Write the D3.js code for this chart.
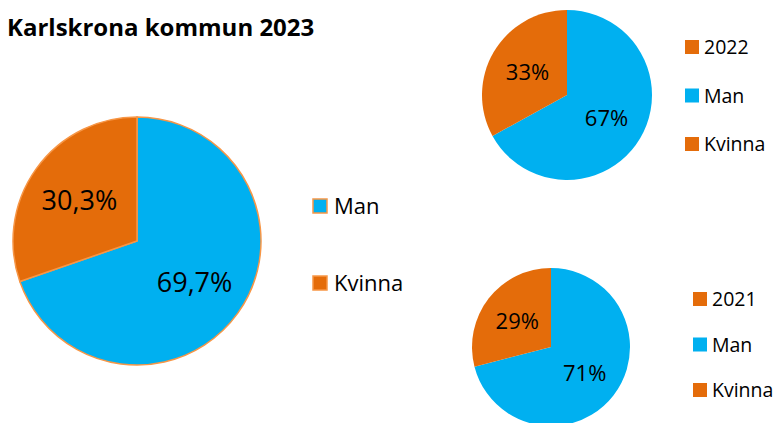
<!DOCTYPE html>
<html>
<head>
<meta charset="utf-8">
<script src="https://cdn.jsdelivr.net/npm/d3@7"></script>
<style>
  body { margin: 0; background: #fff; }
  svg { display: block; font-family: "Open Sans", sans-serif; }
</style>
</head>
<body>
<div id="chart"></div>
<script>
var categories = ['Man', 'Kvinna'];
var values2023 = [69.7, 30.3];
var values2022 = [67, 33];
var values2021 = [71, 29];
var labels2023 = ['69,7%', '30,3%'];
var labels2022 = ['67%', '33%'];
var labels2021 = ['71%', '29%'];

var colors = d3.scaleOrdinal().domain(categories).range(['#00B0F0', '#E46C0A']);

var svg = d3.select('#chart').append('svg')
	.attr('width', 778)
	.attr('height', 423);

svg.append('text')
	.attr('x', 7)
	.attr('y', 36)
	.attr('font-size', 24)
	.attr('font-weight', 'bold')
	.attr('fill', '#000')
	.text('Karlskrona kommun 2023');

function drawPie(opts) {
	var pie = d3.pie().sort(null).value(function(d) { return d.value; });
	var data = pie(categories.map(function(c, i) {
		return {name: c, value: opts.values[i], label: opts.labels[i]};
	}));
	var arc = d3.arc().innerRadius(0).outerRadius(opts.r);
	var labelArc = d3.arc().innerRadius(opts.r * opts.labelPos).outerRadius(opts.r * opts.labelPos);

	var g = svg.append('g').attr('transform', 'translate(' + opts.cx + ',' + opts.cy + ')');

	g.selectAll('path.slice')
		.data(data)
		.enter()
		.append('path')
		.attr('class', 'slice')
		.attr('d', arc)
		.attr('fill', function(d) { return colors(d.data.name); })
		.attr('stroke', opts.stroke || 'none')
		.attr('stroke-width', opts.stroke ? 1.5 : 0);

	g.selectAll('text.value')
		.data(data)
		.enter()
		.append('text')
		.attr('class', 'value')
		.attr('transform', function(d) { return 'translate(' + labelArc.centroid(d) + ')'; })
		.attr('text-anchor', 'middle')
		.attr('dy', '0.36em')
		.attr('font-size', opts.labelSize)
		.attr('fill', '#000')
		.text(function(d) { return d.data.label; });
}

function drawLegend(opts) {
	var items = opts.items;
	var lg = svg.append('g');
	var row = lg.selectAll('g.item')
		.data(items)
		.enter()
		.append('g')
		.attr('class', 'item')
		.attr('transform', function(d, i) { return 'translate(' + opts.x + ',' + (opts.y + i * opts.step) + ')'; });

	row.append('rect')
		.attr('width', opts.box)
		.attr('height', opts.box)
		.attr('fill', function(d) { return d.color; })
		.attr('stroke', opts.stroke || 'none')
		.attr('stroke-width', opts.stroke ? 1.5 : 0);

	row.append('text')
		.attr('x', opts.box + opts.gap)
		.attr('y', opts.box / 2)
		.attr('dy', '0.36em')
		.attr('font-size', opts.size)
		.attr('fill', '#000')
		.text(function(d) { return d.name; });
}

// 2023
drawPie({cx: 137, cy: 241, r: 124, values: values2023, labels: labels2023, labelPos: 0.57, labelSize: 27, stroke: '#F79646'});
drawLegend({x: 313, y: 199, step: 77, box: 14, gap: 7, size: 22, stroke: '#F79646',
	items: categories.map(function(c) { return {name: c, color: colors(c)}; })});

// 2022
drawPie({cx: 567, cy: 95, r: 85, values: values2022, labels: labels2022, labelPos: 0.54, labelSize: 22});
drawLegend({x: 685, y: 40, step: 48.5, box: 14, gap: 5, size: 19.5,
	items: [{name: '2022', color: '#E46C0A'}].concat(categories.map(function(c) { return {name: c, color: colors(c)}; }))});

// 2021
drawPie({cx: 551, cy: 347, r: 79, values: values2021, labels: labels2021, labelPos: 0.54, labelSize: 22});
drawLegend({x: 693, y: 292, step: 45.5, box: 14, gap: 5, size: 19.5,
	items: [{name: '2021', color: '#E46C0A'}].concat(categories.map(function(c) { return {name: c, color: colors(c)}; }))});
</script>
</body>
</html>
